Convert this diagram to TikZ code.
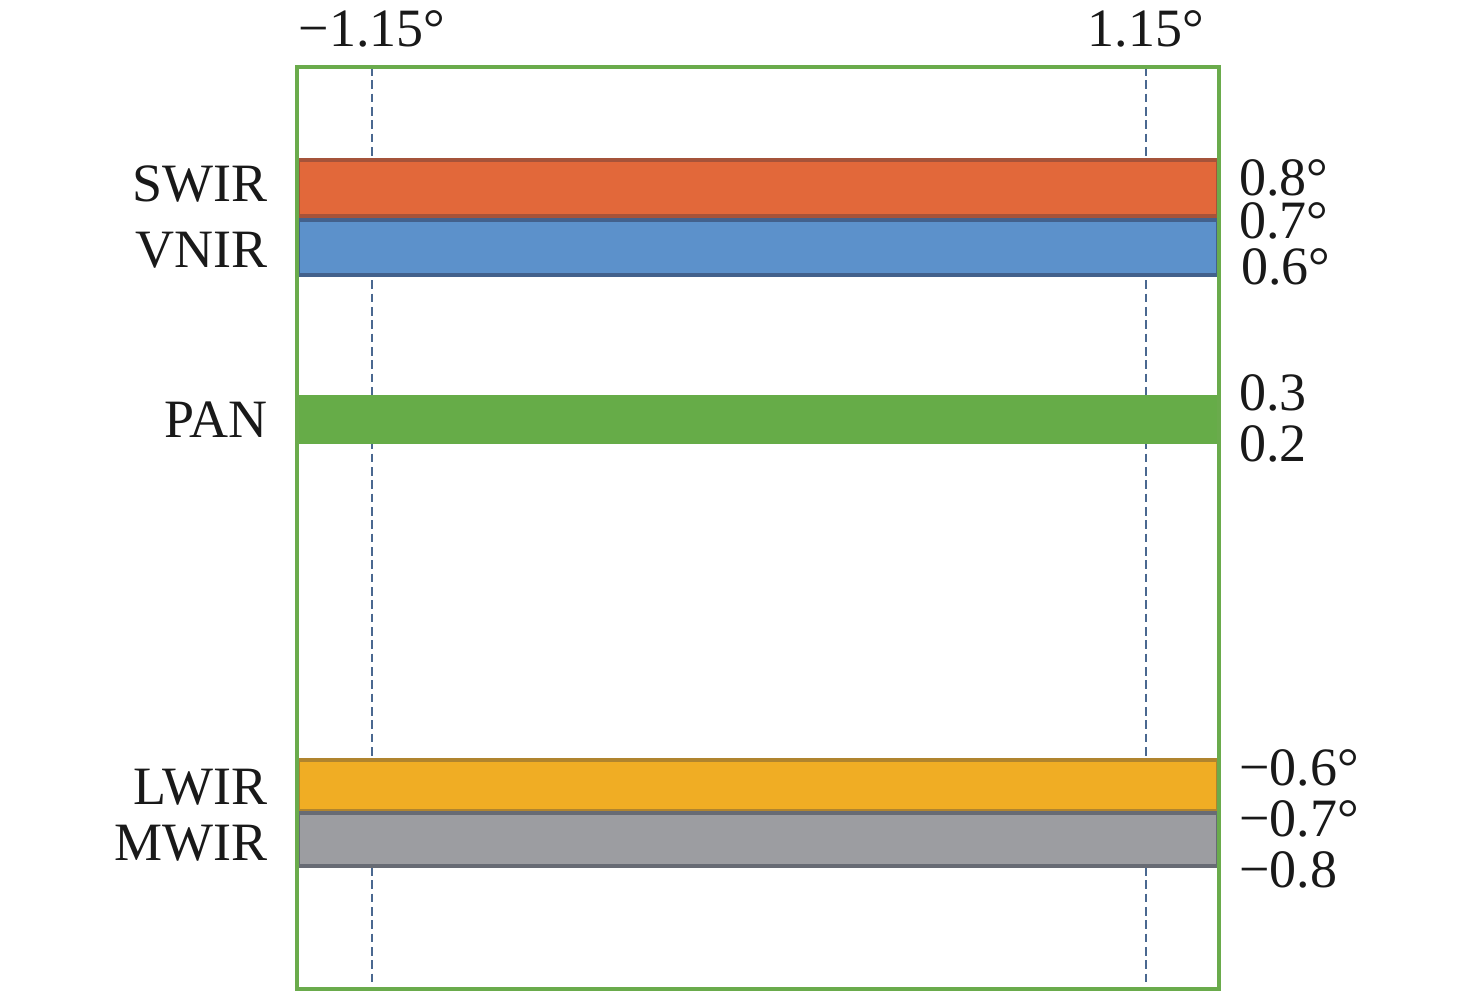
\documentclass[tikz,border=0pt]{standalone}
\usepackage{fontspec}
\setmainfont{Liberation Serif}
\definecolor{frame}{HTML}{6AAB4C}
\definecolor{dashc}{HTML}{4A6890}
\definecolor{swirf}{HTML}{E2683A}
\definecolor{swird}{HTML}{A5533A}
\definecolor{vnirf}{HTML}{5C91CB}
\definecolor{vnird}{HTML}{43618C}
\definecolor{panf}{HTML}{66AC48}
\definecolor{lwirf}{HTML}{F0AD24}
\definecolor{lwird}{HTML}{B0842E}
\definecolor{mwirf}{HTML}{9C9DA1}
\definecolor{mwird}{HTML}{676B74}
\tikzset{
  lbl/.style={inner sep=0pt, font=\fontsize{40.5}{48}\selectfont, text=black!90},
  lft/.style={lbl, anchor=base east},
  rgt/.style={lbl, anchor=base west},
  top/.style={lbl, anchor=base},
  bar/.style={line width=2.6pt},
  guide/.style={dashc, line width=2pt, dash pattern=on 6.5pt off 3.5pt}
}
\begin{document}
\begin{tikzpicture}[x=0.75pt,y=-0.75pt]
\useasboundingbox (0,0) rectangle (1476,994);
% dashed guides
\draw[guide] (372,67) -- (372,989);
\draw[guide] (1146,67) -- (1146,989);
% bars
\draw[bar, fill=swirf, draw=swird] (298,160) rectangle (1218,216);
\draw[bar, fill=vnirf, draw=vnird] (298,220) rectangle (1218,275);
\fill[panf] (297,395) rectangle (1219,444);
\draw[bar, fill=lwirf, draw=lwird] (298,760) rectangle (1218,811);
\draw[bar, fill=mwirf, draw=mwird] (298,813) rectangle (1218,866);
% frame
\draw[frame, line width=2.3pt] (297,67) rectangle (1219,989);
% top labels
\node[top] (tl) at (372,47) {−1.15°};
\node[top] (tr) at (1146,47) {1.15°};
% left labels
\node[lft] (swir) at (268,202) {SWIR};
\node[lft] (vnir) at (268,268) {VNIR};
\node[lft] (pan) at (268,437) {PAN};
\node[lft] (lwir) at (268,804) {LWIR};
\node[lft] (mwir) at (268,860) {MWIR};
% right labels
\node[rgt] (r08) at (1239,196) {0.8°};
\node[rgt] (r07) at (1239,239) {0.7°};
\node[rgt] (r06) at (1241,285) {0.6°};
\node[rgt] (r03) at (1239,411) {0.3};
\node[rgt] (r02) at (1239,461) {0.2};
\node[rgt] (m06) at (1239,785) {−0.6°};
\node[rgt] (m07) at (1239,836) {−0.7°};
\node[rgt] (m08) at (1239,887) {−0.8};
\end{tikzpicture}
\end{document}
